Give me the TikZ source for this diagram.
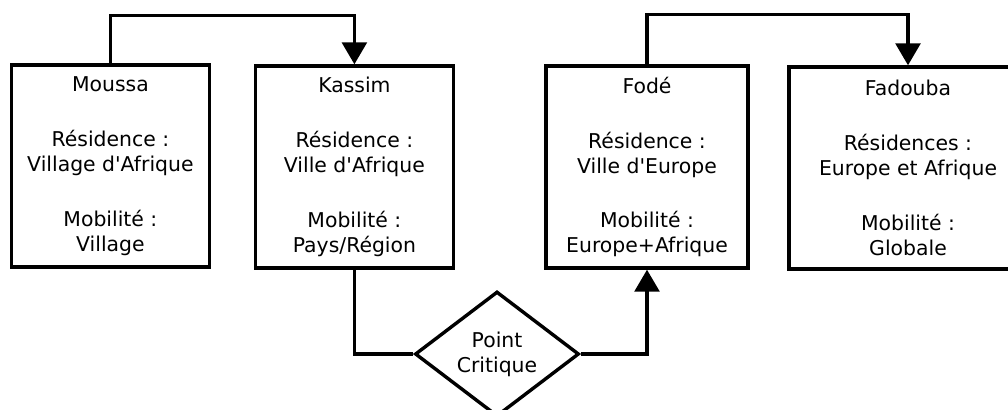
\documentclass[tikz,border=0pt]{standalone}
\usepackage{fontspec}
\setmainfont{DejaVu Sans}
\usetikzlibrary{arrows.meta, positioning, shapes.geometric}

\begin{document}
\begin{tikzpicture}[
    person/.style={draw, line width=0.085cm, minimum width=4.95cm, minimum height=5.05cm, inner sep=0pt, align=center, font=\fontsize{14.5}{17.7}\selectfont},
    critical/.style={draw, diamond, line width=0.085cm, minimum width=4.1cm, minimum height=3.1cm, inner sep=0pt, align=center, font=\fontsize{14.5}{17.7}\selectfont},
    link/.style={line width=0.085cm},
    flow/.style={link, -{Triangle[width=0.62cm, length=0.55cm]}},
  ]
    \useasboundingbox (0,0) rectangle (25.2,-10.25);

    % ── Profils ──
    \node[person] (moussa) at (2.76, -4.15) {Moussa\\[0.75cm]Résidence :\\Village d\textquotesingle Afrique\\[0.75cm]Mobilité :\\Village};
    \node[person] (kassim) at (8.86, -4.175) {Kassim\\[0.75cm]Résidence :\\Ville d\textquotesingle Afrique\\[0.75cm]Mobilité :\\Pays/Région};
    \node[person, minimum width=5.05cm] (fode) at (16.175, -4.175) {Fodé\\[0.75cm]Résidence :\\Ville d\textquotesingle Europe\\[0.75cm]Mobilité :\\Europe+Afrique};
    \node[person, minimum width=5.95cm] (fadouba) at (22.7, -4.2) {Fadouba\\[0.75cm]Résidences :\\Europe et Afrique\\[0.75cm]Mobilité :\\Globale};

    % ── Point critique ──
    \node[critical] (crit) at (12.425, -8.85) {Point\\Critique};

    % Liens
    \draw[flow] (moussa.north) -- ++(0, 1.2) -| (kassim.north);
    \draw[flow] (fode.north) -- ++(0, 1.25) -| (fadouba.north);
    \draw[link] (kassim.south) |- (crit.west);
    \draw[flow] (crit.east) -| (fode.south);
\end{tikzpicture}
\end{document}
